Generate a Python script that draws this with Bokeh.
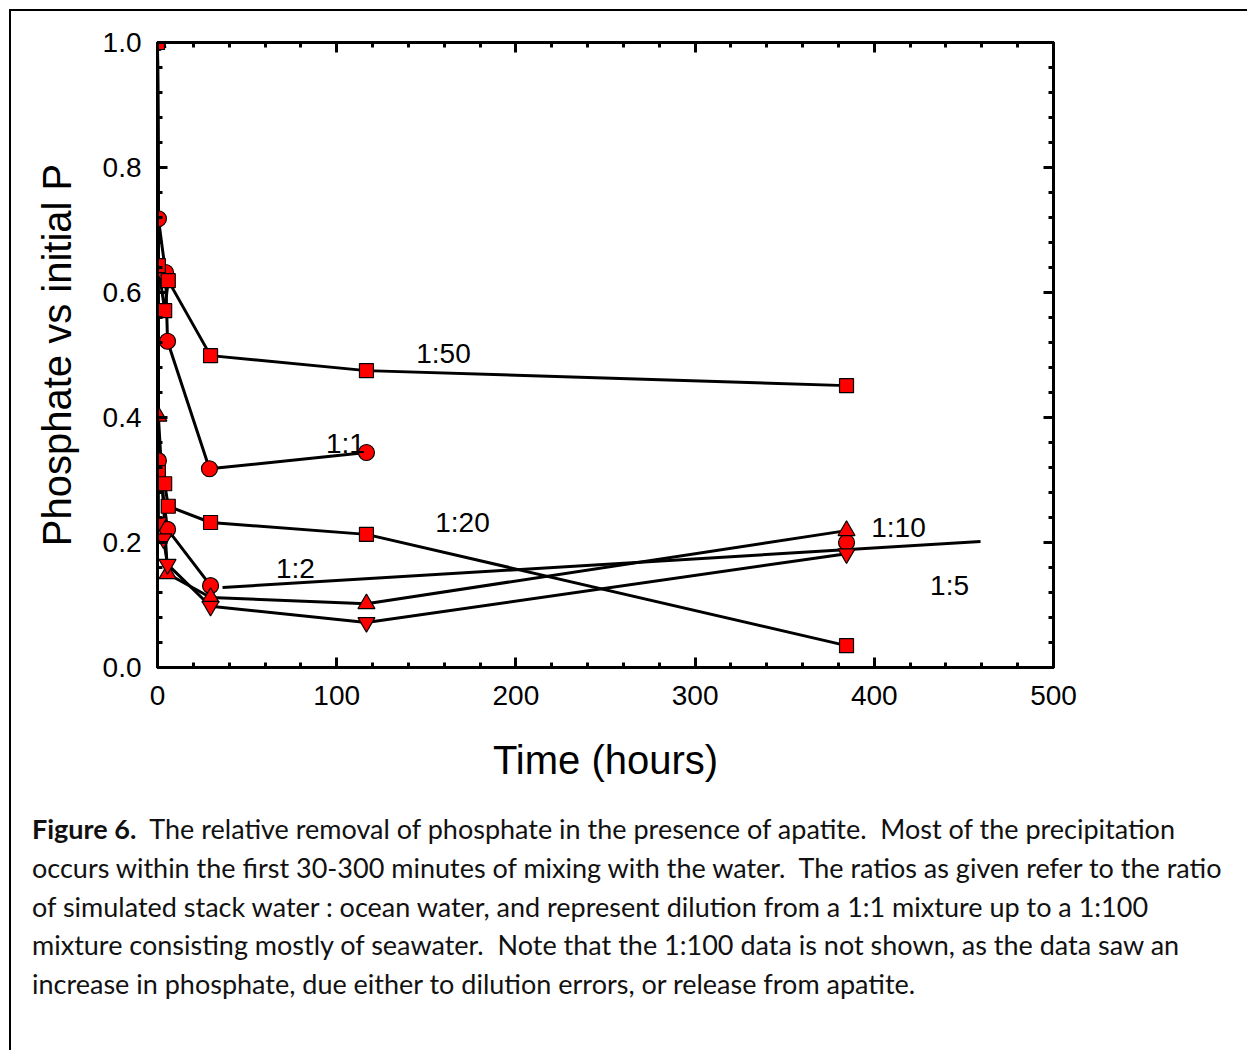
from bokeh.plotting import figure
from bokeh.models import LinearAxis, Range1d, SingleIntervalTicker, Label, NumeralTickFormatter, Div
from bokeh.layouts import column
from bokeh.embed import file_html
from bokeh.resources import INLINE

# ---- data ----
t_1_50 = [0, 0.5, 4, 6, 29.6, 116.6, 384.5]
v_1_50 = [1.0, 0.643, 0.571, 0.619, 0.499, 0.475, 0.451]

t_1_1 = [0, 0.5, 4.5, 5.6, 29.0, 116.6]
v_1_1 = [1.0, 0.718, 0.632, 0.522, 0.318, 0.344]

t_1_20 = [0, 0.5, 4, 6, 29.6, 116.6, 384.5]
v_1_20 = [1.0, 0.312, 0.294, 0.258, 0.232, 0.213, 0.035]

t_1_10 = [0, 0.5, 5.6, 29.6, 116.6, 384.5]
v_1_10 = [1.0, 0.402, 0.150, 0.112, 0.102, 0.219]

t_1_5 = [0, 0.5, 3.3, 5.6, 29.6, 116.6, 384.5]
v_1_5 = [1.0, 0.232, 0.206, 0.165, 0.098, 0.072, 0.182]

t_1_2 = [0, 0.5, 5.6, 29.6, 384.5]
v_1_2 = [1.0, 0.331, 0.221, 0.131, 0.200]
trend_t_1_2 = [36.3, 459.3]
trend_v_1_2 = [0.128, 0.2016]

series_labels = ["1:50", "1:1", "1:20", "1:2", "1:10", "1:5"]
label_t = [159.6, 104.9, 170.2, 77.0, 413.5, 442.0]
label_v = [0.502, 0.358, 0.232, 0.158, 0.224, 0.131]

caption_bold = "Figure 6."
caption_lines = [
    "  The relative removal of phosphate in the presence of apatite.  Most of the precipitation",
    "occurs within the first 30-300 minutes of mixing with the water.  The ratios as given refer to the ratio",
    "of simulated stack water : ocean water, and represent dilution from a 1:1 mixture up to a 1:100",
    "mixture consisting mostly of seawater.  Note that the 1:100 data is not shown, as the data saw an",
    "increase in phosphate, due either to dilution errors, or release from apatite.",
]

FONT = "Liberation Sans"
CAP_FONT = "Lato"
RED = "#ff0000"

W = 1236
p = figure(frame_width=896, frame_height=625,
           min_border_left=146, min_border_right=W - 146 - 896, min_border_top=31, min_border_bottom=133,
           x_range=Range1d(0, 500), y_range=Range1d(0, 1.0),
           output_backend="svg", toolbar_location=None, tools="")
p.xgrid.visible = False
p.ygrid.visible = False
p.outline_line_color = "black"
p.outline_line_width = 3
p.background_fill_color = "white"
p.border_fill_color = "white"

xt = SingleIntervalTicker(interval=100, num_minor_ticks=5)
yt = SingleIntervalTicker(interval=0.2, num_minor_ticks=5)

def style_axis(ax, labels=True, standoff=12):
    ax.axis_line_width = 3
    ax.axis_line_color = "black"
    ax.major_tick_in = 10
    ax.major_tick_out = 0
    ax.minor_tick_in = 5
    ax.minor_tick_out = 0
    ax.major_tick_line_width = 3
    ax.minor_tick_line_width = 3
    if labels:
        ax.major_label_text_font = FONT
        ax.major_label_text_font_size = "28px"
        ax.major_label_text_color = "black"
        ax.major_label_standoff = standoff
    else:
        ax.major_label_text_color = None
        ax.major_label_text_font_size = "1px"
        ax.major_label_standoff = 0

p.xaxis.ticker = xt
p.yaxis.ticker = yt
p.yaxis.formatter = NumeralTickFormatter(format="0.0")
style_axis(p.xaxis[0], standoff=18)
style_axis(p.yaxis[0], standoff=16)
p.xaxis.axis_label = "Time (hours)"
p.yaxis.axis_label = "Phosphate vs initial P"
for ax in (p.xaxis[0], p.yaxis[0]):
    ax.axis_label_text_font = FONT
    ax.axis_label_text_font_size = "40px"
    ax.axis_label_text_font_style = "normal"
    ax.axis_label_text_color = "black"
p.xaxis.axis_label_standoff = 30
p.yaxis.axis_label_standoff = 21

top = LinearAxis(ticker=SingleIntervalTicker(interval=100, num_minor_ticks=5))
right = LinearAxis(ticker=SingleIntervalTicker(interval=0.2, num_minor_ticks=5))
style_axis(top, labels=False)
style_axis(right, labels=False)
p.add_layout(top, "above")
p.add_layout(right, "right")

LW = 3
for t, v in [(t_1_1, v_1_1), (t_1_10, v_1_10), (t_1_5, v_1_5), (t_1_50, v_1_50), (t_1_20, v_1_20)]:
    p.line(t, v, line_color="black", line_width=LW)
p.line(t_1_2[:4], v_1_2[:4], line_color="black", line_width=LW)
p.line(trend_t_1_2, trend_v_1_2, line_color="black", line_width=LW)

mk = dict(fill_color=RED, line_color="black", line_width=1.2)
rs = [
    p.scatter(t_1_1, v_1_1, marker="circle", size=16, **mk),
    p.scatter(t_1_2, v_1_2, marker="circle", size=16, **mk),
    p.scatter(t_1_10, v_1_10, marker="triangle", size=17, **mk),
    p.scatter(t_1_5, v_1_5, marker="inverted_triangle", size=17, **mk),
    p.scatter(t_1_50, v_1_50, marker="square", size=14, **mk),
    p.scatter(t_1_20, v_1_20, marker="square", size=14, **mk),
]
for r in rs:
    if "clip" in r.properties():
        r.clip = False

for s, x, y in zip(series_labels, label_t, label_v):
    p.add_layout(Label(x=x, y=y, text=s, text_font=FONT, text_font_size="28px",
                       text_align="center", text_baseline="middle", text_color="black"))

# ---- caption ----
line_divs = []
for i, line in enumerate(caption_lines):
    inner = ("<b>" + caption_bold + "</b>" if i == 0 else "") + "<span>" + line + "</span>"
    line_divs.append('<div style="height: 38.75px;">' + inner + "</div>")
cap = Div(text=('<div style="font-family: Lato, sans-serif; font-size: 27px; line-height: 38.75px; '
                'white-space: pre; color: #111; padding: 10px 0 0 21px; margin: 0;">'
                + "".join(line_divs) + '</div>'),
          width=W, height=250, margin=0)

layout = column(p, cap, spacing=0)
layout.styles = {"border-top": "2px solid black", "border-left": "2px solid black",
                 "margin-left": "9px", "margin-top": "9px"}

open("out.html", "w").write(file_html(layout, INLINE))
